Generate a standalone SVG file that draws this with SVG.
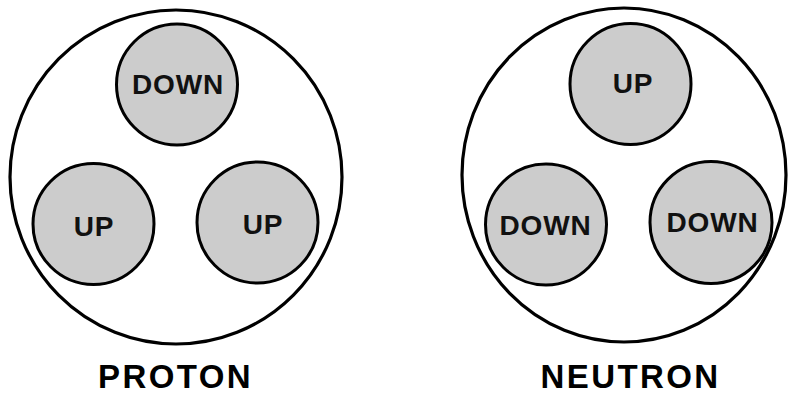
<svg xmlns="http://www.w3.org/2000/svg" width="789" height="395" viewBox="0 0 789 395">
<style>
.outer{fill:#ffffff;stroke:#000;stroke-width:3.2}
.quark{fill:#cccccc;stroke:#000;stroke-width:3}
.q{font-family:"Liberation Sans",Arial,sans-serif;font-weight:bold;font-size:28px;letter-spacing:0.8px;text-anchor:middle;fill:#111}
.lbl{font-family:"Liberation Sans",Arial,sans-serif;font-weight:bold;font-size:33px;letter-spacing:2.4px;text-anchor:middle;fill:#000}
</style>
<rect width="789" height="395" fill="#ffffff"/>
<g id="proton">
<ellipse class="outer" cx="176" cy="177" rx="166" ry="167"/>
<g id="proton-down"><circle class="quark" cx="177" cy="84.5" r="60.5"/><text class="q" x="178" y="94">DOWN</text></g>
<g id="proton-up-left"><circle class="quark" cx="93.5" cy="224" r="60.5"/><text class="q" x="94" y="236">UP</text></g>
<g id="proton-up-right"><circle class="quark" cx="257.5" cy="222.5" r="60.5"/><text class="q" x="263" y="234">UP</text></g>
<text class="lbl" x="175.5" y="388">PROTON</text>
</g>
<g id="neutron">
<ellipse class="outer" cx="624" cy="175" rx="162" ry="167"/>
<g id="neutron-up"><circle class="quark" cx="630.5" cy="84" r="60.5"/><text class="q" x="633" y="93">UP</text></g>
<g id="neutron-down-left"><circle class="quark" cx="546" cy="224.5" r="60.5"/><text class="q" x="545.5" y="235">DOWN</text></g>
<g id="neutron-down-right"><circle class="quark" cx="711" cy="222.5" r="61"/><text class="q" x="712.5" y="232">DOWN</text></g>
<text class="lbl" x="630.5" y="388">NEUTRON</text>
</g>
<g id="connectors"/>
</svg>
